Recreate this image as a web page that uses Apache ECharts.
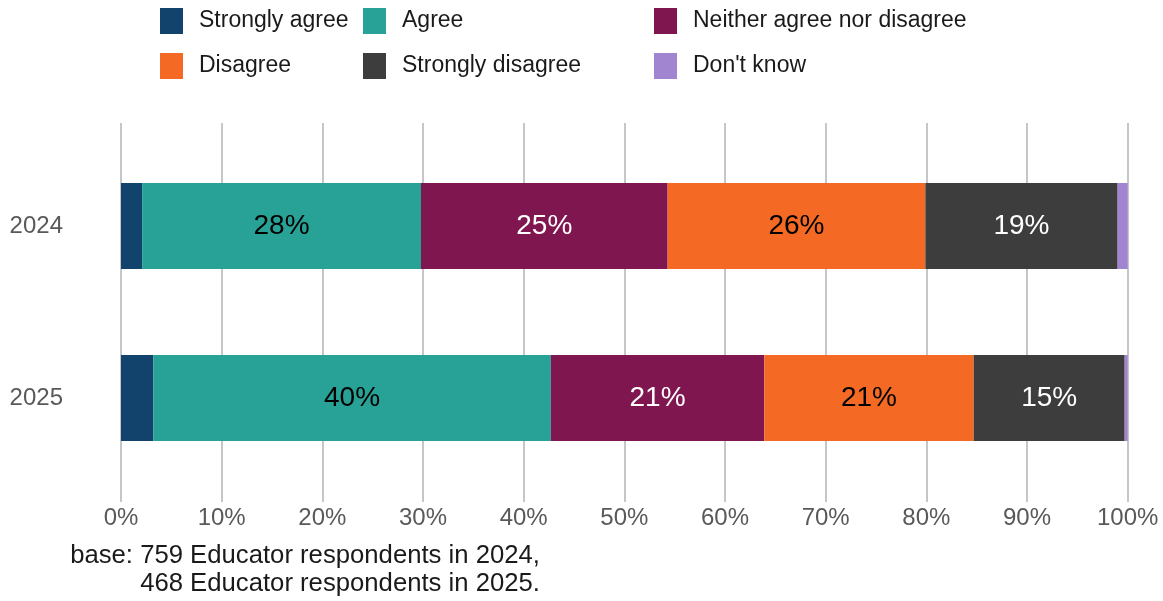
<!DOCTYPE html>
<html>
<head>
<meta charset="utf-8">
<title>Educator survey responses, 2024 and 2025</title>
<script src="https://cdn.jsdelivr.net/npm/echarts@6/dist/echarts.min.js"></script>
<style>
  html, body { margin: 0; padding: 0; background: #ffffff; }
  #chart { width: 1163px; height: 601px; }
</style>
</head>
<body>
<div id="chart"></div>
<script>
// Survey years (rows, top to bottom)
const years = ['2024', '2025'];

// Response shares, percent of respondents
const stronglyAgree    = [2.1, 3.2];
const agree            = [27.7, 39.5];
const neither          = [24.5, 21.2];
const disagree         = [25.6, 20.8];
const stronglyDisagree = [19.1, 15.0];
const dontKnow         = [1.0, 0.3];

// Axis ticks
const xTicks = [0, 10, 20, 30, 40, 50, 60, 70, 80, 90, 100];

const captionLines = [
  'base: 759 Educator respondents in 2024,',
  '468 Educator respondents in 2025.'
];

const FONT = '"Liberation Sans", Arial, Helvetica, sans-serif';

const responses = [
  { name: 'Strongly agree',             values: stronglyAgree,    color: '#12436D', text: '#ffffff' },
  { name: 'Agree',                      values: agree,            color: '#28A197', text: '#000000' },
  { name: 'Neither agree nor disagree', values: neither,          color: '#801650', text: '#ffffff' },
  { name: 'Disagree',                   values: disagree,         color: '#F46A25', text: '#000000' },
  { name: 'Strongly disagree',          values: stronglyDisagree, color: '#3D3D3D', text: '#ffffff' },
  { name: "Don't know",                 values: dontKnow,         color: '#A285D1', text: '#000000' }
];

const series = responses.map(r => ({
  name: r.name,
  type: 'bar',
  stack: 'total',
  xAxisIndex: 0,
  yAxisIndex: 0,
  barWidth: '50%',
  itemStyle: { color: r.color },
  label: {
    show: true,
    position: 'inside',
    color: r.text,
    fontFamily: FONT,
    fontSize: 28,
    formatter: p => (p.value >= 5 ? Math.round(p.value) + '%' : '')
  },
  emphasis: { disabled: true },
  data: r.values
}));

const legendBase = {
  orient: 'vertical',
  icon: 'rect',
  itemWidth: 23,
  itemHeight: 26,
  itemGap: 19,
  top: 8,
  padding: 0,
  selectedMode: false,
  textStyle: { fontFamily: FONT, fontSize: 23, color: '#1a1a1a', padding: [0, 0, 0, 11] }
};

const chart = echarts.init(document.getElementById('chart'), null, { renderer: 'canvas' });

chart.setOption({
  animation: false,
  backgroundColor: '#ffffff',
  legend: [
    Object.assign({}, legendBase, { left: 160, data: ['Strongly agree', 'Disagree'] }),
    Object.assign({}, legendBase, { left: 363, data: ['Agree', 'Strongly disagree'] }),
    Object.assign({}, legendBase, { left: 654, data: ['Neither agree nor disagree', "Don't know"] })
  ],
  grid: [
    // bars
    { left: 121, right: 35.3, top: 140, bottom: 117, containLabel: false },
    // full-height panel for the percentage gridlines and tick labels
    { left: 121, right: 35.3, top: 123, bottom: 99, containLabel: false }
  ],
  xAxis: [
    { type: 'value', gridIndex: 0, min: 0, max: 100, show: false },
    {
      type: 'value', gridIndex: 1, min: 0, max: 100, interval: 10,
      axisLine: { show: false },
      axisTick: { show: false },
      splitLine: { show: true, lineStyle: { color: '#c6c6c6', width: 2 } },
      axisLabel: {
        margin: 4,
        color: '#595959',
        fontFamily: FONT,
        fontSize: 24,
        formatter: v => (xTicks.includes(v) ? v + '%' : '')
      }
    }
  ],
  yAxis: [
    {
      type: 'category', gridIndex: 0, data: years, inverse: true,
      axisLine: { show: false },
      axisTick: { show: false },
      splitLine: { show: false },
      axisLabel: { margin: 58, color: '#595959', fontFamily: FONT, fontSize: 24 }
    },
    { type: 'value', gridIndex: 1, min: 0, max: 1, show: false }
  ],
  graphic: [
    {
      type: 'text',
      x: 540,
      y: 570,
      style: {
        text: captionLines.join('\n'),
        fill: '#1a1a1a',
        font: '25.7px ' + FONT,
        lineHeight: 28,
        align: 'right',
        verticalAlign: 'middle'
      }
    }
  ],
  series: series
});
</script>
</body>
</html>
